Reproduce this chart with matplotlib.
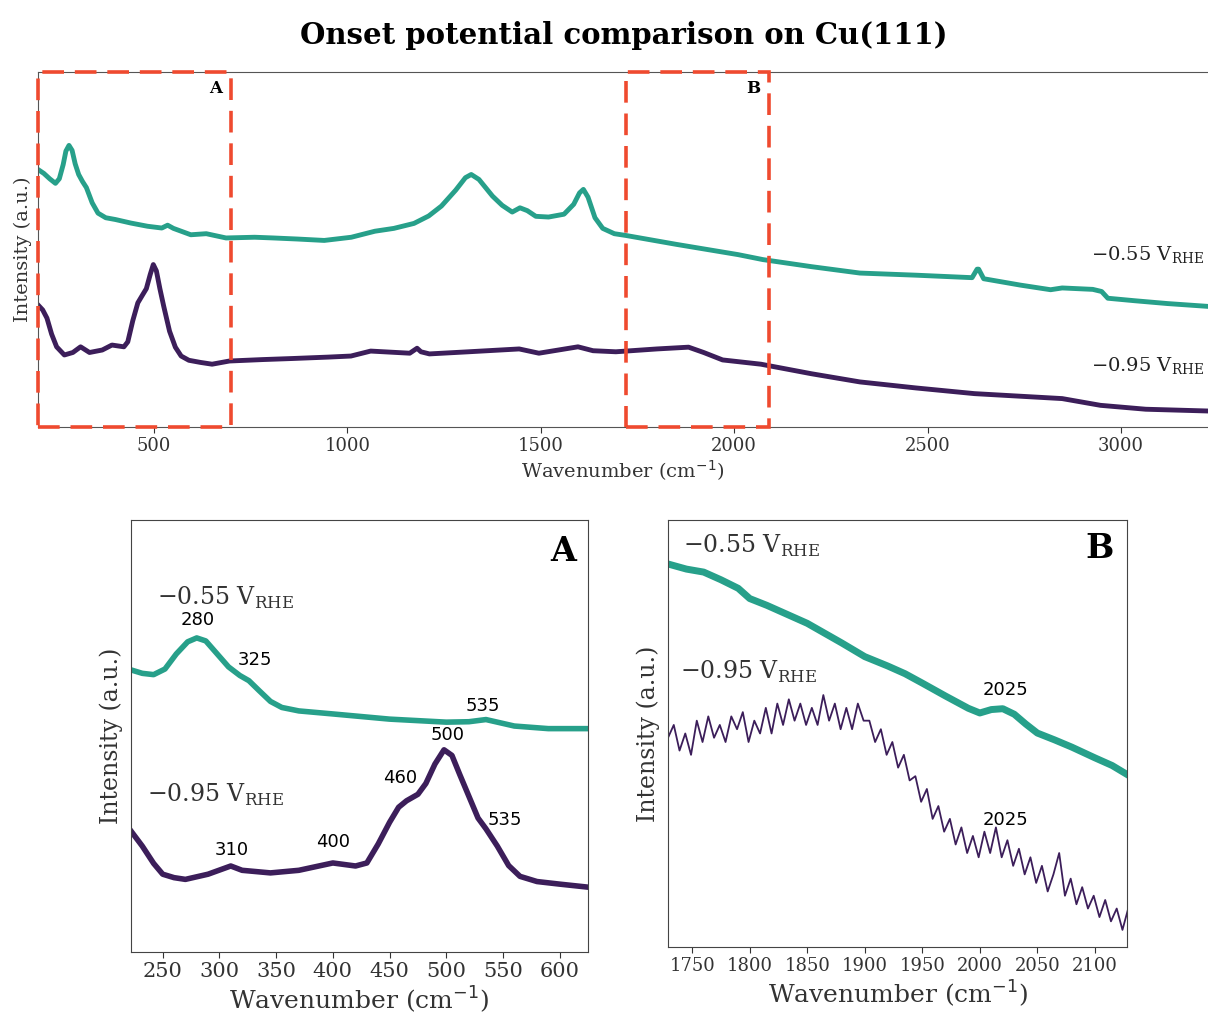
import numpy as np
import matplotlib
matplotlib.use("Agg")
import matplotlib.pyplot as plt
from matplotlib.patches import Rectangle

plt.rcParams['font.family'] = ['DejaVu Serif']

teal = '#27a08a'
purple = '#3c1e5a'
red = '#ef4a2f'

# ---- full spectrum (top) ----
wn_hi = [200, 215, 230, 245, 255, 265, 272, 280, 288, 296, 305, 315, 325, 340, 355, 375, 400, 440,
         483, 520, 535, 550, 570, 595, 635, 686, 760, 808, 870, 940, 1010, 1071, 1120, 1172, 1210,
         1243, 1280, 1305, 1320, 1340, 1375, 1400, 1426, 1446, 1465, 1487, 1520, 1560, 1585, 1600,
         1610, 1622, 1640, 1660, 1690, 1720, 1850, 2010, 2074, 2200, 2325, 2470, 2615, 2628, 2632,
         2645, 2740, 2818, 2848, 2927, 2950, 2966, 3035, 3120, 3225]
i_hi = [0.726, 0.715, 0.700, 0.687, 0.700, 0.740, 0.778, 0.794, 0.780, 0.742, 0.712, 0.692, 0.675,
        0.632, 0.603, 0.590, 0.585, 0.575, 0.566, 0.561, 0.569, 0.560, 0.552, 0.542, 0.545, 0.533,
        0.535, 0.533, 0.530, 0.526, 0.535, 0.552, 0.560, 0.574, 0.595, 0.623, 0.668, 0.703, 0.712,
        0.698, 0.651, 0.625, 0.606, 0.618, 0.610, 0.594, 0.592, 0.600, 0.628, 0.660, 0.670, 0.648,
        0.590, 0.560, 0.545, 0.540, 0.515, 0.486, 0.472, 0.452, 0.434, 0.428, 0.421, 0.445, 0.445,
        0.418, 0.400, 0.387, 0.392, 0.388, 0.382, 0.363, 0.356, 0.348, 0.340]

wn_lo = [200, 212, 223, 235, 248, 268, 290, 310, 333, 366, 391, 422, 432, 445, 458, 470, 480, 490,
         498, 506, 515, 525, 540, 555, 570, 590, 620, 650, 695, 780, 857, 950, 1009, 1060, 1161,
         1180, 1190, 1212, 1313, 1444, 1495, 1596, 1635, 1694, 1800, 1882, 1921, 1970, 2069, 2200,
         2325, 2470, 2621, 2848, 2947, 3064, 3225]
i_lo = [0.344, 0.330, 0.307, 0.262, 0.226, 0.203, 0.210, 0.226, 0.210, 0.217, 0.231, 0.226, 0.240,
        0.300, 0.350, 0.372, 0.390, 0.430, 0.458, 0.440, 0.390, 0.340, 0.270, 0.225, 0.200, 0.188,
        0.182, 0.177, 0.186, 0.190, 0.193, 0.197, 0.200, 0.214, 0.208, 0.222, 0.212, 0.206, 0.212,
        0.220, 0.208, 0.226, 0.215, 0.212, 0.220, 0.225, 0.210, 0.189, 0.177, 0.150, 0.127, 0.110,
        0.094, 0.080, 0.061, 0.050, 0.045]

# ---- zoom A ----
wn_a = [222, 232, 242, 252, 262, 272, 280, 288, 298, 308, 318, 326, 335, 345, 355, 370, 400, 450,
        500, 520, 535, 560, 590, 625]
a_hi = [0.653, 0.645, 0.642, 0.655, 0.690, 0.718, 0.727, 0.720, 0.690, 0.660, 0.640, 0.628, 0.605,
        0.580, 0.566, 0.558, 0.551, 0.539, 0.532, 0.533, 0.538, 0.523, 0.517, 0.517]
wn_a2 = [222, 232, 242, 250, 260, 270, 290, 310, 320, 345, 370, 400, 420, 430, 440, 450, 458, 465,
         475, 482, 490, 498, 505, 512, 520, 528, 535, 545, 555, 565, 580, 600, 625]
a_lo = [0.280, 0.245, 0.205, 0.180, 0.172, 0.168, 0.180, 0.199, 0.189, 0.183, 0.189, 0.206, 0.199,
        0.206, 0.250, 0.300, 0.335, 0.350, 0.365, 0.390, 0.435, 0.468, 0.455, 0.410, 0.360, 0.310,
        0.285, 0.245, 0.200, 0.175, 0.163, 0.157, 0.150]

# ---- zoom B ----
wn_b = [1729, 1745, 1760, 1775, 1790, 1800, 1815, 1830, 1850, 1865, 1880, 1900, 1920, 1935, 1950,
        1970, 1990, 2000, 2010, 2020, 2030, 2040, 2050, 2065, 2080, 2100, 2115, 2128]
b_hi = [0.897, 0.885, 0.878, 0.860, 0.840, 0.816, 0.800, 0.782, 0.758, 0.735, 0.712, 0.680, 0.658,
        0.640, 0.618, 0.588, 0.559, 0.548, 0.556, 0.558, 0.545, 0.522, 0.501, 0.485, 0.468, 0.443,
        0.425, 0.404]
wn_b2 = list(range(1729, 2130, 5))
b_lo = [0.49, 0.52, 0.46, 0.50, 0.45, 0.53, 0.48, 0.54, 0.49, 0.52, 0.48, 0.54, 0.51, 0.55, 0.48,
        0.53, 0.50, 0.56, 0.50, 0.57, 0.52, 0.58, 0.53, 0.57, 0.52, 0.56, 0.52, 0.59, 0.53, 0.57,
        0.51, 0.56, 0.51, 0.57, 0.53, 0.53, 0.48, 0.51, 0.45, 0.48, 0.42, 0.45, 0.39, 0.40, 0.34,
        0.37, 0.30, 0.33, 0.27, 0.30, 0.24, 0.28, 0.22, 0.26, 0.21, 0.27, 0.22, 0.28, 0.21, 0.25,
        0.19, 0.23, 0.17, 0.21, 0.15, 0.19, 0.13, 0.17, 0.22, 0.12, 0.16, 0.10, 0.14, 0.09, 0.12,
        0.07, 0.11, 0.06, 0.09, 0.04, 0.09]

box_a = (200, 700)
box_b = (1720, 2090)

lab_hi = '\u22120.55 V$_{\\mathregular{RHE}}$'
lab_lo = '\u22120.95 V$_{\\mathregular{RHE}}$'

peaks_a = [(281, 0.769, '280'), (331, 0.676, '325'), (532, 0.569, '535'), (501, 0.502, '500'),
           (459, 0.403, '460'), (552, 0.306, '535'), (311, 0.236, '310'), (400, 0.255, '400')]
peaks_b = [(2022, 0.602, '2025'), (2022, 0.297, '2025')]

fig = plt.figure(figsize=(12.08, 10.19), dpi=100)

# top panel
ax = fig.add_axes([0.0315, 0.581, 0.9685, 0.348])
ax.plot(wn_hi, i_hi, color=teal, lw=3.5)
ax.plot(wn_lo, i_lo, color=purple, lw=3.5)
ax.set_xlim(200, 3225)
ax.set_ylim(0, 1)
ax.set_yticks([])
ax.set_xticks([500, 1000, 1500, 2000, 2500, 3000])
ax.tick_params(axis='x', labelsize=13, colors='#333333', length=4)
ax.spines['right'].set_visible(False)
for s in ['top', 'left', 'bottom']:
    ax.spines[s].set_color('#555555')
ax.set_xlabel('Wavenumber (cm$^{-1}$)', fontsize=14, color='#333333', labelpad=2)
ax.set_ylabel('Intensity (a.u.)', fontsize=14, color='#333333', labelpad=4)
for (x0, x1), name in zip([box_a, box_b], ['A', 'B']):
    ax.add_patch(Rectangle((x0, 0), x1 - x0, 1, transform=ax.get_xaxis_transform(), fill=False,
                           ec=red, lw=2.6, ls=(0, (6, 3)), clip_on=False, zorder=5))
    ax.text(x1 - 40, 0.955, name, fontsize=12, fontweight='bold', ha='center', va='center')
ax.text(3215, 0.485, lab_hi, fontsize=14, ha='right', va='center', color='#222222')
ax.text(3215, 0.172, lab_lo, fontsize=14, ha='right', va='center', color='#222222')
fig.text(0.516, 0.965, 'Onset potential comparison on Cu(111)', fontsize=21, fontweight='bold',
         ha='center', va='center')

# zoom A
axa = fig.add_axes([0.1084, 0.0658, 0.3784, 0.4239])
axa.plot(wn_a, a_hi, color=teal, lw=4)
axa.plot(wn_a2, a_lo, color=purple, lw=4)
axa.set_xlim(222, 625)
axa.set_ylim(0, 1)
axa.set_yticks([])
axa.set_xticks(range(250, 601, 50))
axa.tick_params(axis='x', labelsize=15, colors='#333333', length=4)
axa.set_xlabel('Wavenumber (cm$^{-1}$)', fontsize=18, color='#333333', labelpad=2)
axa.set_ylabel('Intensity (a.u.)', fontsize=17, color='#333333', labelpad=6)
axa.text(245, 0.82, lab_hi, fontsize=17, ha='left', va='center', color='#333333')
axa.text(236, 0.363, lab_lo, fontsize=17, ha='left', va='center', color='#333333')
for x, y, t in peaks_a:
    axa.text(x, y, t, fontsize=13, ha='center', va='center', family='DejaVu Sans')
axa.text(603, 0.926, 'A', fontsize=24, fontweight='bold', ha='center', va='center')

# zoom B
axb = fig.add_axes([0.553, 0.0707, 0.380, 0.419])
axb.plot(wn_b, b_hi, color=teal, lw=5)
axb.plot(wn_b2, b_lo, color=purple, lw=1.3)
axb.set_xlim(1729, 2128)
axb.set_ylim(0, 1)
axb.set_yticks([])
axb.set_xticks(range(1750, 2101, 50))
axb.tick_params(axis='x', labelsize=13, colors='#333333', length=4)
axb.set_xlabel('Wavenumber (cm$^{-1}$)', fontsize=18, color='#333333', labelpad=2)
axb.set_ylabel('Intensity (a.u.)', fontsize=17, color='#333333', labelpad=6)
axb.text(1742, 0.939, lab_hi, fontsize=17, ha='left', va='center', color='#333333')
axb.text(1739, 0.644, lab_lo, fontsize=17, ha='left', va='center', color='#333333')
for x, y, t in peaks_b:
    axb.text(x, y, t, fontsize=13, ha='center', va='center', family='DejaVu Sans')
axb.text(2104, 0.934, 'B', fontsize=24, fontweight='bold', ha='center', va='center')

for a in [axa, axb]:
    for s in a.spines.values():
        s.set_color('#444444')

fig.savefig('out.png', dpi=100)
